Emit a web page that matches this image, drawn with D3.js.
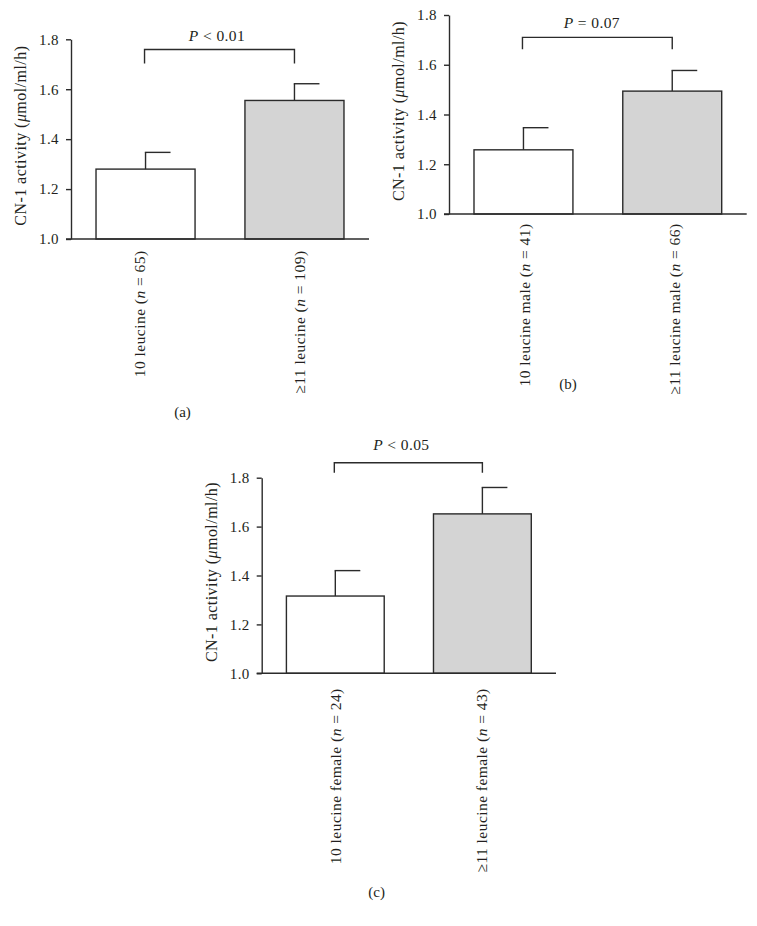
<!DOCTYPE html>
<html>
<head>
<meta charset="utf-8">
<script src="https://cdn.jsdelivr.net/npm/d3@7/dist/d3.min.js"></script>
<style>
  body { margin: 0; background: #fff; }
  svg text { font-family: "Liberation Serif", "Times New Roman", serif; fill: #231f20; }
</style>
</head>
<body>
<svg id="chart" width="757" height="926"></svg>
<script>
// ---------- data ----------
const panelNames = ["(a)", "(b)", "(c)"];
const yAxisLabel = ["CN-1 activity (", "μ", "mol/ml/h)"];
const tickValues = [1.0, 1.2, 1.4, 1.6, 1.8];
const yDomain = [1.0, 1.8];

const categoriesA = [["10 leucine (", "n", " = 65)"], ["≥11 leucine (", "n", " = 109)"]];
const categoriesB = [["10 leucine male (", "n", " = 41)"], ["≥11 leucine male (", "n", " = 66)"]];
const categoriesC = [["10 leucine female (", "n", " = 24)"], ["≥11 leucine female (", "n", " = 43)"]];

const meansA = [1.28, 1.555];
const meansB = [1.258, 1.494];
const meansC = [1.316, 1.652];

const upperA = [1.347, 1.622];
const upperB = [1.347, 1.577];
const upperC = [1.42, 1.76];

const pLabels = [["P", " < 0.01"], ["P", " = 0.07"], ["P", " < 0.05"]];

const barFills = ["#ffffff", "#d4d4d4"];

// ---------- layout ----------
const layouts = [
  { x0: 71, x1: 369, yBot: 239, yTop: 39.3, cats: categoriesA, means: meansA, upper: upperA,
    brY: 1.759, brDrop: 1.703, pDx: -2.5, pDy: -8.8, labTop: 11.5, labOff: [-1, 11],
    capX: 182.5, capY: 417 },
  { x0: 449, x1: 746.7, yBot: 214, yTop: 15, cats: categoriesB, means: meansB, upper: upperB,
    brY: 1.710, brDrop: 1.662, pDx: -5.5, pDy: -9.3, labTop: 9.5, labOff: [7, 7.5],
    capX: 568, capY: 389 },
  { x0: 261.7, x1: 556, yBot: 673.3, yTop: 477.7, cats: categoriesC, means: meansC, upper: upperC,
    brY: 1.861, brDrop: 1.820, pDx: -7, pDy: -12.3, labTop: 15, labOff: [6, 5],
    capX: 376.7, capY: 897 }
];

const svg = d3.select("#chart");
const ink = "#2b2b2b";

function richText(sel, parts, italicIdx) {
  parts.forEach((p, i) => {
    sel.append("tspan").text(p).style("font-style", italicIdx.includes(i) ? "italic" : "normal");
  });
}

layouts.forEach((L, pi) => {
  const g = svg.append("g");
  const idx = [0, 1];
  const x = d3.scaleBand().domain(idx).range([L.x0, L.x1]).paddingInner(0.335).paddingOuter(0.168);
  const y = d3.scaleLinear().domain(yDomain).range([L.yBot, L.yTop]);

  // bars
  g.selectAll("rect.bar").data(idx).join("rect")
    .attr("x", d => x(d))
    .attr("y", d => y(L.means[d]))
    .attr("width", x.bandwidth())
    .attr("height", d => y(yDomain[0]) - y(L.means[d]))
    .attr("fill", d => barFills[d])
    .attr("stroke", ink).attr("stroke-width", 1.4);

  // error bars (upper only, half cap to the right)
  const cx = d => x(d) + x.bandwidth() / 2;
  g.selectAll("line.err").data(idx).join("line")
    .attr("x1", cx).attr("x2", cx)
    .attr("y1", d => y(L.means[d])).attr("y2", d => y(L.upper[d]))
    .attr("stroke", ink).attr("stroke-width", 1.4);
  g.selectAll("line.cap").data(idx).join("line")
    .attr("x1", d => cx(d) - 0.7).attr("x2", d => cx(d) + 25)
    .attr("y1", d => y(L.upper[d])).attr("y2", d => y(L.upper[d]))
    .attr("stroke", ink).attr("stroke-width", 1.4);

  // y axis
  const yAxis = d3.axisLeft(y).tickValues(tickValues).tickFormat(d3.format(".1f"))
    .tickSizeInner(5).tickSizeOuter(0).tickPadding(7);
  const ya = g.append("g").attr("transform", `translate(${L.x0},0)`).call(yAxis);
  ya.select(".domain").attr("stroke", ink).attr("stroke-width", 1.4);
  ya.selectAll(".tick line").attr("stroke", ink).attr("stroke-width", 1.4);
  ya.selectAll(".tick text").attr("font-size", 15).style("letter-spacing", "0.4px")
    .attr("font-family", "Liberation Serif").attr("fill", "#231f20");

  // x axis line
  g.append("line").attr("x1", L.x0 - 5).attr("x2", L.x1)
    .attr("y1", L.yBot).attr("y2", L.yBot).attr("stroke", ink).attr("stroke-width", 1.4);

  // x labels rotated
  idx.forEach(d => {
    const t = g.append("text")
      .attr("transform", `translate(${cx(d) + L.labOff[d]},${L.yBot + L.labTop}) rotate(-90)`)
      .attr("text-anchor", "end").attr("font-size", 15.5).style("letter-spacing", "0.45px");
    richText(t, L.cats[d], [1]);
  });

  // y axis title
  const yl = g.append("text")
    .attr("transform", `translate(${L.x0 - 45},${(L.yBot + L.yTop) / 2 - 3.5}) rotate(-90)`)
    .attr("text-anchor", "middle").attr("font-size", 16).style("letter-spacing", "0.45px");
  richText(yl, yAxisLabel, [1]);

  // significance bracket
  const bx1 = cx(0) - 1, bx2 = cx(1);
  const by = y(L.brY), bd = y(L.brDrop);
  g.append("path")
    .attr("d", `M${bx1},${bd}V${by}H${bx2}V${bd}`)
    .attr("fill", "none").attr("stroke", ink).attr("stroke-width", 1.4);
  const pt = g.append("text")
    .attr("x", (bx1 + bx2) / 2 + L.pDx).attr("y", by + L.pDy)
    .attr("text-anchor", "middle").attr("font-size", 15.5).style("letter-spacing", "0.4px");
  richText(pt, pLabels[pi], [0]);

  // panel caption
  g.append("text").attr("x", L.capX).attr("y", L.capY)
    .attr("text-anchor", "middle").attr("font-size", 15).text(panelNames[pi]);
});
</script>
</body>
</html>
